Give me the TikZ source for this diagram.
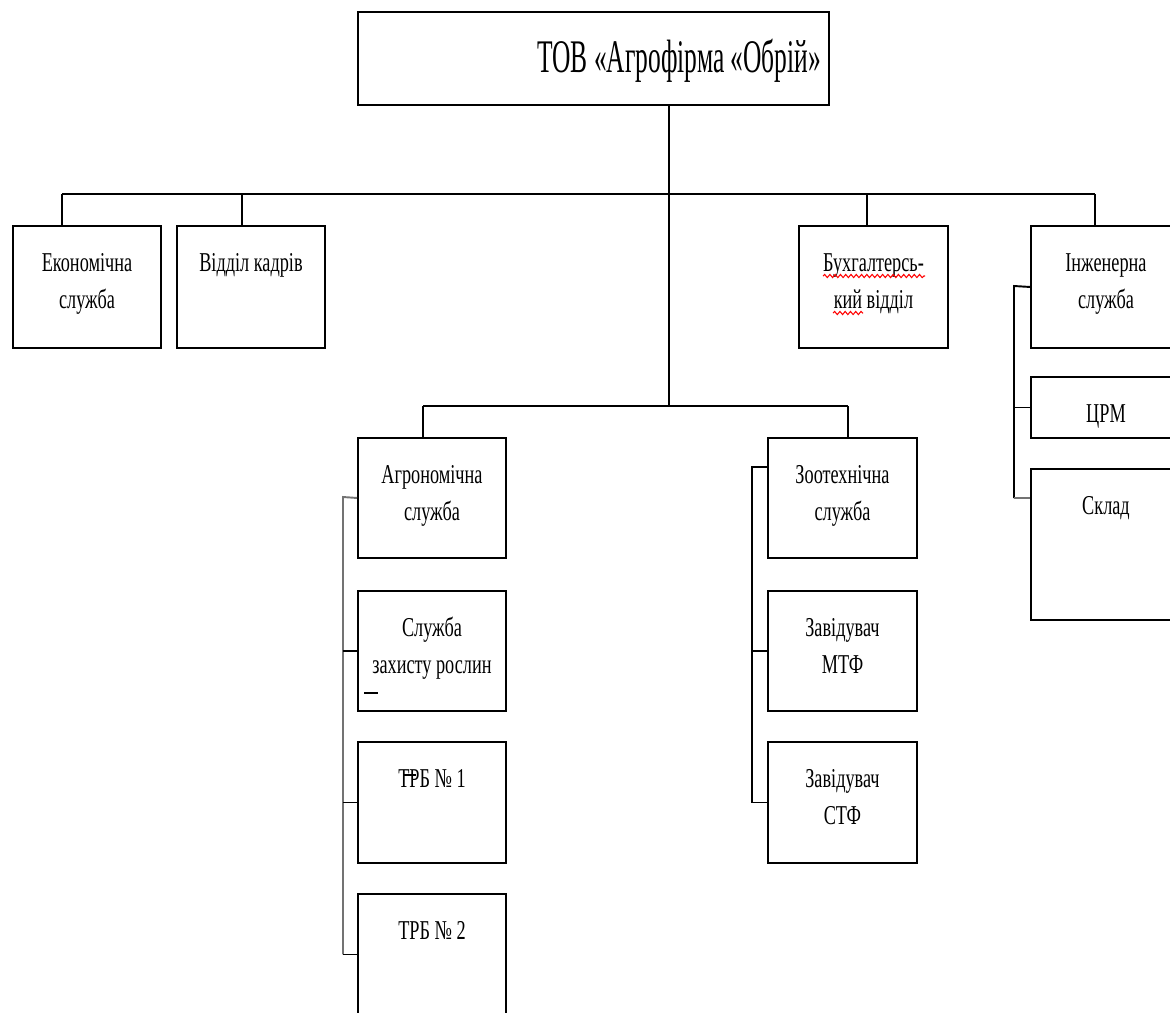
\documentclass[tikz,border=0pt]{standalone}
\usepackage{fontspec}
\setmainfont{Liberation Serif}
\newfontfamily\unitfont{Liberation Serif}[FakeStretch=0.67]
\newfontfamily\titlefont{Liberation Serif}[FakeStretch=0.545]
\usetikzlibrary{decorations.pathmorphing}
\newlength{\px}
\setlength{\px}{0.02cm}
\newcommand{\cell}[3]{\parbox[t][#2][t]{#1}{\unitfont\fontsize{15.5pt}{21pt}\selectfont\centering\rule{0pt}{46\px}#3}}
\begin{document}
\begin{tikzpicture}[
    x=0.02cm, y=-0.02cm,
    unit/.style={draw, line width=1.1pt, anchor=north west, inner sep=0pt},
    link/.style={line width=1.1pt},
    sublink/.style={line width=1.1pt, black!55},
    spell/.style={red, line width=0.6pt, decorate, decoration={snake, amplitude=0.9pt, segment length=3pt}}
]
    \useasboundingbox (0,0) rectangle (1170,1012);

    % Керівництво
    \node[unit] (tov) at (357,11) {\parbox[t][93\px][t]{471\px}{\titlefont\fontsize{26.6pt}{30pt}\selectfont\raggedleft\rule{0pt}{61\px}ТОВ «Агрофірма «Обрій»\rule{8\px}{0pt}}};

    % Перший рівень
    \node[unit] (econ) at (12,225) {\cell{148\px}{122\px}{Економічна\\служба}};
    \node[unit] (kadry) at (176,225) {\cell{148\px}{122\px}{Відділ кадрів}};
    \node[unit] (buh) at (798,225) {\cell{149\px}{122\px}{Бухгалтерсь-\\кий відділ}};
    \node[unit] (inzh) at (1030,225) {\cell{150\px}{122\px}{Інженерна\\служба}};
    \node[unit] (crm) at (1030,376) {\cell{150\px}{61\px}{ЦРМ}};
    \node[unit] (sklad) at (1030,468) {\cell{150\px}{151\px}{Склад}};

    % Виробничі служби
    \node[unit] (agro) at (357,437) {\cell{148\px}{120\px}{Агрономічна\\служба}};
    \node[unit] (zahyst) at (357,590) {\cell{148\px}{120\px}{Служба\\захисту рослин}};
    \node[unit] (trb1) at (357,741) {\cell{148\px}{121\px}{ТРБ № 1}};
    \node[unit] (trb2) at (357,893) {\cell{148\px}{121\px}{ТРБ № 2}};
    \node[unit] (zoo) at (767,437) {\cell{149\px}{120\px}{Зоотехнічна\\служба}};
    \node[unit] (mtf) at (767,590) {\cell{149\px}{120\px}{Завідувач\\МТФ}};
    \node[unit] (stf) at (767,741) {\cell{149\px}{121\px}{Завідувач\\СТФ}};

    % Точки відгалужень
    \coordinate (hub) at (669,194);
    \coordinate (fork) at (669,406);
    \coordinate (d-econ) at (62,194);
    \coordinate (d-kadry) at (242,194);
    \coordinate (d-buh) at (867,194);
    \coordinate (d-inzh) at (1095,194);
    \coordinate (d-agro) at (423,406);
    \coordinate (d-zoo) at (848,406);
    \coordinate (r-agro) at (343,497);
    \coordinate (r-zoo) at (752,467);
    \coordinate (r-inzh) at (1014,286);

    \draw[link] (tov.south -| hub) -- (fork);
    \draw[link] (d-econ) -- (d-inzh);
    \draw[link] (d-econ) -- (econ.north -| d-econ);
    \draw[link] (d-kadry) -- (kadry.north -| d-kadry);
    \draw[link] (d-buh) -- (buh.north -| d-buh);
    \draw[link] (d-inzh) -- (inzh.north -| d-inzh);
    \draw[link] (d-agro) -- (d-zoo);
    \draw[link] (d-agro) -- (agro.north -| d-agro);
    \draw[link] (d-zoo) -- (zoo.north -| d-zoo);

    % Підпорядковані підрозділи
    \draw[sublink] (agro.west) -- (r-agro) -- (r-agro |- trb2.west);
    \draw[link] (r-agro |- zahyst.west) -- (zahyst.west);
    \draw[link] (r-agro |- trb1.west) -- (trb1.west);
    \draw[link] (r-agro |- trb2.west) -- (trb2.west);
    \draw[link] (zoo.west |- r-zoo) -- (r-zoo) -- (r-zoo |- stf.west) -- (stf.west);
    \draw[link] (r-zoo |- mtf.west) -- (mtf.west);
    \draw[link] (inzh.west) -- (r-inzh) -- (r-inzh |- 0,498);
    \draw[link] (r-inzh |- crm.west) -- (crm.west);
    \draw[sublink] (r-inzh |- 0,498) -- (sklad.west |- 0,498);

    % Позначки правопису та дрібні штрихи
    \draw[spell] (823,276) -- (925,276);
    \draw[spell] (833,313) -- (863,313);
    \draw[line width=0.8pt] (364,693) -- (378,693);
    \draw[line width=0.8pt] (404,775) -- (416,775);
\end{tikzpicture}
\end{document}
